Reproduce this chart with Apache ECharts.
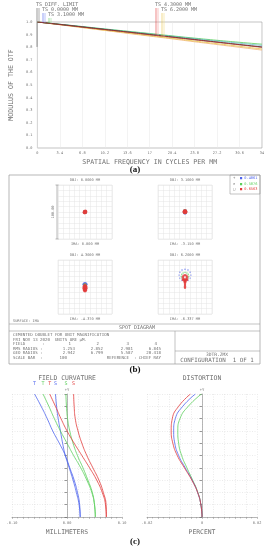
<!DOCTYPE html>
<html><head><meta charset="utf-8">
<script src="https://cdn.jsdelivr.net/npm/echarts@6/dist/echarts.min.js"></script>
<style>html,body{margin:0;padding:0;background:#fff}#c{width:269px;height:550px}</style>
</head><body><div id="c"></div>
<script>
// ---------- (a) MTF ----------
const freq = [0,3.4,6.8,10.2,13.6,17,20.4,23.8,27.2,30.6,34];
const freqTicks = ['0','3.4','6.8','10.2','13.6','17','20.4','23.8','27.2','30.6','34'];
const mtfDiff  = [1.000,0.981,0.961,0.941,0.921,0.901,0.881,0.861,0.841,0.821,0.802];
const mtfF0    = [1.000,0.982,0.963,0.944,0.925,0.906,0.887,0.868,0.849,0.831,0.814];
const mtfF31   = [1.000,0.982,0.964,0.945,0.927,0.909,0.890,0.872,0.855,0.839,0.824];
const mtfF43   = [1.000,0.980,0.960,0.940,0.920,0.899,0.879,0.859,0.839,0.819,0.799];
const mtfF62T  = [1.000,0.979,0.957,0.935,0.914,0.892,0.871,0.849,0.828,0.807,0.786];
const mtfF62S  = [1.000,0.978,0.955,0.933,0.910,0.888,0.866,0.843,0.821,0.799,0.777];
const mtfLabels = ['TS DIFF. LIMIT','TS 0.0000 MM','TS 3.1000 MM','TS 4.3000 MM','TS 6.2000 MM'];

// ---------- (b) spot diagram (µm, chief-ray referenced) ----------
const wavelengths = ['0.4861','0.5876','0.6563'];
const spotObj = ['OBJ: 0.0000 MM','OBJ: 3.1000 MM','OBJ: 4.3000 MM','OBJ: 6.2000 MM'];
const spotIma = ['IMA: 0.000 MM','IMA: -3.150 MM','IMA: -4.370 MM','IMA: -6.337 MM'];
const spot1B = [[0,0]];
const spot1G = [[0,0]];
const spot1R = [[0,0],[0.6,0.6],[-0.6,-0.6]];
const spot2B = [[0,1],[0,-1]];
const spot2G = [[0,1],[0,0]];
const spot2R = [[0,1.5],[0,-0.5],[-0.8,0.5],[0.8,0.5]];
const spot3B = [[0,6],[-1.5,5],[1.5,5],[0,3.5]];
const spot3G = [[0,4],[0,1]];
const spot3R = [[0,3],[0,0.5],[0,-2],[0,-4.5],[0,-7],[-1.5,-2.5],[1.5,-2.5],[-1.5,0.5],[1.5,0.5],[-1,-5.5],[1,-5.5]];
const spot4B = [[11,22],[9.5,27.5],[5.5,31.5],[0,33],[-5.5,31.5],[-9.5,27.5],[-11,22],[-9.5,16.5],[-5.5,12.5],[0,11],[5.5,12.5],[9.5,16.5]];
const spot4G = [[7,20],[6,23.5],[3.5,26],[0,27],[-3.5,26],[-6,23.5],[-7,20],[-6,16.5],[-3.5,14],[0,13],[3.5,14],[6,16.5]];
const spot4R = [[4,18],[2.8,20.8],[0,22],[-2.8,20.8],[-4,18],[-2.8,15.2],[2.8,15.2],[-4,13.5],[-2,13.5],[0,13.5],[2,13.5],[4,13.5],[0,11],[0,8.5],[0,6],[0,3.5],[0,1],[0,-1.5],[-1,10],[1,10]];
const spotFields = ['1','2','3','4'];
const rmsRadius = ['1.253','2.852','2.981','6.845'];
const geoRadius = ['2.942','6.799','5.587','20.418'];

// ---------- (c) field curvature / distortion (field fraction 0 -> 1) ----------
const fieldFrac = [0,0.1,0.2,0.3,0.4,0.5,0.6,0.7,0.8,0.9,1.0];
const fcBlueT  = [0.024,0.023,0.019,0.013,0.005,-0.003,-0.014,-0.026,-0.036,-0.047,-0.059];
const fcBlueS  = [0.024,0.022,0.017,0.011,0.004,-0.003,-0.008,-0.012,-0.016,-0.019,-0.021];
const fcGreenT = [0.0515,0.050,0.045,0.036,0.025,0.012,0.000,-0.012,-0.023,-0.033,-0.0436];
const fcGreenS = [0.0515,0.050,0.046,0.038,0.029,0.019,0.011,0.005,0.001,-0.001,-0.002];
const fcRedT   = [0.0715,0.070,0.064,0.054,0.041,0.027,0.013,0.000,-0.011,-0.021,-0.0315];
const fcRedS   = [0.0715,0.071,0.066,0.058,0.047,0.036,0.027,0.020,0.015,0.013,0.012];
const distRed   = [0,-0.0004,-0.0016,-0.0037,-0.0064,-0.0090,-0.0106,-0.0112,-0.0108,-0.0085,-0.0042];
const distBlue  = [0,-0.0004,-0.0016,-0.0036,-0.0061,-0.0085,-0.0099,-0.0103,-0.0097,-0.0070,-0.0024];
const distGreen = [0,-0.0004,-0.0015,-0.0034,-0.0055,-0.0074,-0.0085,-0.0088,-0.0080,-0.0050,-0.0002];

// ---------- styling ----------
const FONT = 'DejaVu Sans Mono';
const TXT = '#707070';
const COL = {black:'#3a2a2a', blue:'#4d63ee', green:'#5ccf5c', red:'#e23a3a', yellow:'#e8c445', orange:'#f3b27a'};

const chart = echarts.init(document.getElementById('c'), null, {renderer:'canvas'});

const pairs = (xs, ys) => xs.map((x,i)=>[x, ys[i]]);
const fpairs = (vals) => vals.map((v,i)=>[v, fieldFrac[i]]);

function lineS(gi, data, color, w, z, dash){
  return {type:'line', xAxisIndex:gi, yAxisIndex:gi, data, symbol:'none', smooth:true,
    lineStyle:{color, width:w, type:dash||'solid'}, z:z||2, silent:true, animation:false};
}
function scat(gi, data, color, size){
  return {type:'scatter', xAxisIndex:gi, yAxisIndex:gi, data, symbolSize:size,
    itemStyle:{color}, silent:true, animation:false};
}

const spotGrids = [
  {left:58, top:185}, {left:158, top:185}, {left:58, top:260}, {left:158, top:260}
];
const grids = [
  {left:26, top:22, width:236, height:126, show:true, borderColor:'#9a9a9a', borderWidth:0.6}
];
spotGrids.forEach(g=>grids.push({left:g.left, top:g.top, width:54, height:54, show:true, borderColor:'#dcdcdc', borderWidth:0.5}));
grids.push({left:12, top:394, width:110, height:123});
grids.push({left:147, top:394, width:110, height:123});

const txtStyle = (fs)=>({fontSize:fs, color:TXT, fontFamily:FONT});
const xAxes = [], yAxes = [];
xAxes.push({gridIndex:0, type:'value', min:0, max:34, interval:3.4,
  axisLine:{show:false}, axisTick:{show:false},
  axisLabel:Object.assign({margin:3, formatter:v=>freqTicks[Math.round(v/3.4)]}, txtStyle(3.6)),
  splitLine:{show:true, lineStyle:{color:'#e6e6e6', width:0.5}},
  name:'SPATIAL FREQUENCY IN CYCLES PER MM', nameLocation:'middle', nameGap:11, nameTextStyle:txtStyle(6.6)});
yAxes.push({gridIndex:0, type:'value', min:0, max:1, interval:0.1,
  axisLine:{show:false}, axisTick:{show:false},
  axisLabel:Object.assign({margin:5, formatter:v=>v.toFixed(1)}, txtStyle(3.6)),
  splitLine:{show:false},
  name:'MODULUS OF THE OTF', nameLocation:'middle', nameGap:15, nameTextStyle:txtStyle(6.6)});
for(let i=1;i<=4;i++){
  xAxes.push({gridIndex:i, type:'value', min:-50, max:50, interval:10, axisLine:{show:false}, axisTick:{show:false}, axisLabel:{show:false}, splitLine:{lineStyle:{color:'#e4e4e4', width:0.5}}});
  yAxes.push({gridIndex:i, type:'value', min:-50, max:50, interval:10, axisLine:{show:false}, axisTick:{show:false}, axisLabel:{show:false}, splitLine:{lineStyle:{color:'#e4e4e4', width:0.5}}});
}
function fcX(gi, lim, step, name, fmt){
  return {gridIndex:gi, type:'value', min:-lim, max:lim, interval:step,
    axisLine:{show:true, onZero:true, lineStyle:{color:'#8a8a8a', width:0.6}},
    axisTick:{show:true, length:2, lineStyle:{color:'#8a8a8a', width:0.5}},
    minorTick:{show:true, splitNumber:2, length:1.5, lineStyle:{color:'#8a8a8a', width:0.5}},
    axisLabel:Object.assign({margin:4, showMinLabel:true, showMaxLabel:true, formatter:fmt}, txtStyle(3.6)),
    splitLine:{show:true, lineStyle:{color:'#d6d6d6', width:0.5, type:[1,1.5]}},
    name, nameLocation:'middle', nameGap:12, nameTextStyle:txtStyle(6.4)};
}
function fcY(gi){
  return {gridIndex:gi, type:'value', min:0, max:1, interval:0.1,
    axisLine:{show:true, onZero:true, lineStyle:{color:'#8a8a8a', width:0.6}},
    axisTick:{show:true, length:2.5, lineStyle:{color:'#555', width:0.6}},
    axisLabel:{show:false},
    splitLine:{show:true, lineStyle:{color:'#d6d6d6', width:0.5, type:[1,1.5]}},
    name:'+Y', nameLocation:'end', nameGap:2, nameTextStyle:txtStyle(3.8)};
}
xAxes.push(fcX(5, 0.1, 0.02, 'MILLIMETERS', v=>{
  if(Math.abs(v)<1e-9) return '0.00';
  if(Math.abs(Math.abs(v)-0.1)<1e-9) return v.toFixed(2);
  return '';
}));
yAxes.push(fcY(5));
xAxes.push(fcX(6, 0.02, 0.004, 'PERCENT', v=>{
  if(Math.abs(v)<1e-9) return '0';
  if(Math.abs(Math.abs(v)-0.02)<1e-9) return v.toFixed(2);
  return '';
}));
yAxes.push(fcY(6));

const series = [
  lineS(0, pairs(freq, mtfF62S), COL.orange, 0.8, 2),
  lineS(0, pairs(freq, mtfF62T), COL.yellow, 0.8, 3),
  lineS(0, pairs(freq, mtfF31), COL.green, 0.8, 3),
  lineS(0, pairs(freq, mtfF0), '#3fa7b8', 0.6, 3),
  lineS(0, pairs(freq, mtfDiff), COL.black, 0.9, 4),
  lineS(0, pairs(freq, mtfF43), '#b03030', 0.8, 5),
];
const spotSets = [[spot1B,spot1G,spot1R,4.2],[spot2B,spot2G,spot2R,4.2],[spot3B,spot3G,spot3R,3.6],[spot4B,spot4G,spot4R,2.2]];
spotSets.forEach((s,i)=>{
  const gi=i+1, sz=s[3];
  if(i===3){
    series.push(scat(gi, s[0], COL.blue, 1.4));
    series.push(scat(gi, s[1], COL.green, 1.4));
    series.push(scat(gi, s[2], COL.red, 2.4));
  } else {
    series.push(scat(gi, s[0], COL.blue, sz));
    series.push(scat(gi, s[1], COL.green, sz));
    series.push(scat(gi, s[2], COL.red, sz));
  }
});
const fcSets = [[fcBlueT,COL.blue,'T'],[fcBlueS,COL.blue,'S'],[fcGreenT,COL.green,'T'],[fcGreenS,COL.green,'S'],[fcRedT,COL.red,'T'],[fcRedS,COL.red,'S']];
fcSets.forEach(s=>series.push(lineS(5, fpairs(s[0]), s[1], 0.8, 3)));
[[distGreen,COL.green],[distBlue,COL.blue],[distRed,COL.red]].forEach(s=>series.push(lineS(6, fpairs(s[0]), s[1], 0.8, 3)));

chart.setOption({animation:false, backgroundColor:'#fff', grid:grids, xAxis:xAxes, yAxis:yAxes, series});

// ---------- annotation graphics ----------
const G = [];
function T(text, x, y, fs, opt){
  opt = opt||{};
  G.push({type:'text', x, y, rotation:opt.rot||0, silent:true, z:10,
    style:{text, fill:opt.color||TXT, font:(opt.weight||'normal')+' '+fs+'px '+(opt.family||FONT),
      align:opt.align||'left', verticalAlign:'middle'}});
}
function L(x1,y1,x2,y2,color,w){
  G.push({type:'line', silent:true, z:9, shape:{x1,y1,x2,y2}, style:{stroke:color||'#9a9a9a', lineWidth:w||0.6}});
}
// MTF legend labels + leaders
const mtfLab = [
  {x:36, y:5,  lead:[37,39], data:mtfDiff, color:['#555','#777']},
  {x:42, y:10, lead:[43,45], data:mtfF0,   color:[COL.blue,'#8a9cf5']},
  {x:48, y:15, lead:[49,51], data:mtfF31,  color:[COL.green,'#9fe09f']},
  {x:155,y:5,  lead:[156,158], data:mtfF43, color:[COL.red,'#f09a9a']},
  {x:161,y:10, lead:[162,164], data:mtfF62T, color:[COL.yellow,'#f2dc8a']}
];
function interp(arr, xd){
  for(let i=0;i<freq.length-1;i++){
    if(xd>=freq[i] && xd<=freq[i+1]){const t=(xd-freq[i])/(freq[i+1]-freq[i]); return arr[i]+(arr[i+1]-arr[i])*t;}
  }
  return arr[arr.length-1];
}
mtfLab.forEach((m,k)=>{
  T(mtfLabels[k], m.x, m.y, 5);
  m.lead.forEach((px,j)=>{
    const xd = chart.convertFromPixel({gridIndex:0}, [px, 50])[0];
    const py = chart.convertToPixel({gridIndex:0}, [xd, interp(m.data, xd)])[1];
    L(px, m.y+3, px, py, m.color[j], 0.6);
  });
});
// panel captions
T('(a)', 135, 170, 9, {family:'Liberation Serif', weight:'bold', color:'#111', align:'center'});
T('(b)', 135, 370, 9, {family:'Liberation Serif', weight:'bold', color:'#111', align:'center'});
T('(c)', 135, 542, 9, {family:'Liberation Serif', weight:'bold', color:'#111', align:'center'});
// spot frame
G.push({type:'rect', silent:true, z:9, shape:{x:9, y:175, width:251, height:189}, style:{fill:'none', stroke:'#9a9a9a', lineWidth:0.7}});
G.push({type:'rect', silent:true, z:9, shape:{x:230, y:175, width:30, height:19}, style:{fill:'none', stroke:'#9a9a9a', lineWidth:0.6}});
L(9,324,260,324); L(9,331,260,331); L(175,331,175,364); L(175,351,260,351);
const wlCol = [COL.blue, COL.green, COL.red];
const wlSym = ['+','×','□'];
wavelengths.forEach((w,i)=>{
  T(wlSym[i], 233, 178.5+i*5.5, 3.8, {color:'#666'});
  T('■ '+w, 240, 178.5+i*5.5, 3.6, {color:wlCol[i]});
});
const spotCx = [85,185,85,185];
const spotTop = [185,185,260,260];
spotObj.forEach((s,i)=>{
  T(s, spotCx[i], spotTop[i]-5, 3.6, {align:'center'});
  T(spotIma[i], spotCx[i], spotTop[i]+59.5, 3.6, {align:'center'});
});
// scale bar
L(57,185,57,239,'#8a8a8a',0.6); L(55.5,185,58.5,185,'#8a8a8a',0.6); L(55.5,239,58.5,239,'#8a8a8a',0.6);
T('100.00', 53.5, 212, 3.6, {align:'center', rot:Math.PI/2});
T('SURFACE: IMA', 13, 321, 3.6);
T('SPOT DIAGRAM', 137, 327.5, 5, {align:'center'});
T('CEMENTED DOUBLET FOR UNIT MAGNIFICATION', 13, 335, 4.1);
T('FRI NOV 13 2020  UNITS ARE \u00b5M.', 13, 339.5, 4.1);
T('FIELD', 13, 344, 4.1); T(':', 42, 344, 4.1);
T('RMS RADIUS :', 13, 348.5, 4.1);
T('GEO RADIUS :', 13, 353, 4.1);
T('SCALE BAR  :', 13, 357.5, 4.1);
const colR = [75,103,133,161];
spotFields.forEach((f,i)=>T(f, colR[i]-4, 344, 4.1, {align:'right'}));
rmsRadius.forEach((v,i)=>T(v, colR[i], 348.5, 4.1, {align:'right'}));
geoRadius.forEach((v,i)=>T(v, colR[i], 353, 4.1, {align:'right'}));
T('100', 67, 357.5, 4.1, {align:'right'});
T('REFERENCE  : CHIEF RAY', 161, 357.5, 4.1, {align:'right'});
T('3DTR.ZMX', 217, 355, 4.6, {align:'center'});
T('CONFIGURATION  1 OF 1', 217, 360, 5.8, {align:'center'});
// (c) titles and legend letters
T('FIELD CURVATURE', 67, 378, 6.4, {align:'center'});
T('DISTORTION', 202, 378, 6.4, {align:'center'});
fcSets.forEach(s=>{
  const p = chart.convertToPixel({gridIndex:5}, [s[0][s[0].length-1], 1]);
  T(s[2], p[0], p[1]-10, 5, {align:'center', color:s[1]});
});
chart.setOption({graphic:G});
</script></body></html>
